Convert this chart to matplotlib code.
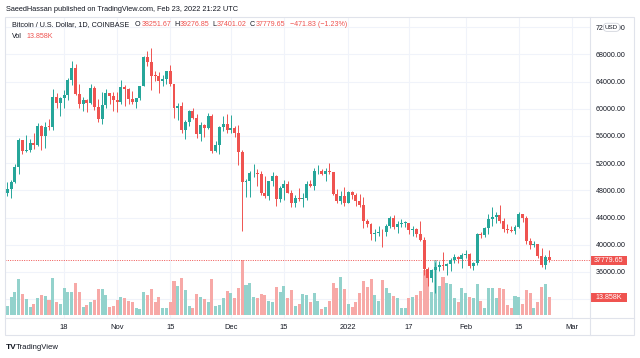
import matplotlib
matplotlib.use('Agg')
import matplotlib.pyplot as plt
import matplotlib.dates as mdates
import matplotlib.transforms as mtransforms
from matplotlib.patches import Rectangle
from matplotlib.lines import Line2D
import numpy as np
import pandas as pd

plt.rcParams['font.family'] = ['Liberation Sans', 'DejaVu Sans']

W, H = 640, 358

# daily candles, Coinbase BTC/USD
dates = pd.date_range('2021-10-03', '2022-02-23', freq='D')
opens = [47660, 48230, 49250, 51500, 55340, 53800, 53960, 54960, 54700, 57480,
         56000, 57370, 57350, 61670, 60870, 61530, 62040, 64280, 66000, 62200,
         60690, 61300, 60860, 63080, 60330, 58470, 60600, 62270, 61890, 61320,
         61000, 63230, 62940, 61450, 61010, 61530, 63310, 67550, 66950, 64880,
         64800, 64160, 64390, 65500, 63600, 60100, 60360, 56900, 58100, 59700,
         58670, 56300, 57560, 57170, 58960, 53730, 54710, 57270, 57800, 56950,
         57180, 56500, 53600, 49200, 49400, 50500, 50580, 50470, 47550, 47150,
         49350, 50100, 46700, 48340, 48870, 47630, 46180, 46850, 46690, 46900,
         48900, 48600, 50800, 50820, 50400, 50780, 50700, 47540, 46460, 47120,
         46210, 47740, 47300, 46440, 45830, 43430, 43080, 41560, 41730, 41870,
         41830, 42740, 43920, 42590, 43100, 43170, 43210, 42200, 42370, 41660,
         40680, 36460, 35070, 36280, 36680, 36960, 36820, 37200, 37710, 38170,
         37920, 38470, 38700, 36900, 37330, 41570, 41380, 42400, 43840, 44040,
         44370, 43530, 42380, 42230, 42070, 42550, 44560, 43880, 40540, 40000,
         40120, 38390, 37030, 38251.67]
highs = [49300, 49500, 51900, 55750, 55400, 56100, 55500, 56500, 57840, 57670,
         58000, 58550, 62900, 62350, 61700, 62700, 64480, 67000, 66600, 63700,
         61750, 61480, 63710, 63300, 61500, 62500, 62950, 62350, 62450, 62420,
         64270, 63500, 63100, 62600, 61580, 63320, 67790, 68530, 69000, 65600,
         65460, 64920, 65550, 66400, 63650, 60800, 60980, 58370, 59850, 60050,
         59300, 58000, 57800, 59400, 59170, 55300, 57450, 58870, 59200, 59100,
         57400, 57600, 53900, 49700, 50900, 51900, 51200, 50800, 50100, 49450,
         50700, 50200, 48700, 49500, 49400, 48000, 47300, 48300, 47550, 49330,
         49600, 51350, 51800, 51200, 51250, 52050, 50750, 48150, 47900, 48550,
         47900, 47950, 47550, 47500, 47050, 43750, 43150, 42300, 42800, 42250,
         43100, 44300, 44450, 43450, 43800, 43500, 43250, 42700, 42500, 43500,
         41100, 36800, 36450, 37500, 37550, 38900, 37250, 38000, 38700, 38350,
         38750, 39250, 38850, 37400, 41700, 41950, 42650, 44500, 45500, 44800,
         45850, 43950, 43000, 42750, 42850, 44750, 44600, 44200, 40950, 40500,
         40150, 39500, 38450, 39276.85]
lows = [47130, 46900, 49050, 50400, 53380, 53640, 53680, 54100, 54470, 53880,
        54300, 56850, 56860, 60140, 58950, 60100, 61340, 63500, 62100, 60050,
        59700, 59550, 60650, 59800, 58100, 57820, 60180, 60700, 59700, 59600,
        60650, 60400, 60700, 60730, 60100, 61350, 63300, 66330, 62800, 64100,
        62300, 63300, 63600, 63400, 58600, 58370, 56500, 55580, 57400, 58500,
        55650, 55300, 55850, 57000, 53550, 53650, 53320, 56700, 56450, 56450,
        55850, 51700, 42000, 47100, 47000, 50000, 48600, 47300, 46850, 46600,
        48650, 45700, 46300, 46550, 47550, 45500, 45550, 46450, 45600, 46650,
        48450, 48050, 50450, 50200, 49450, 50450, 47350, 46100, 45950, 45700,
        46200, 46750, 45700, 45500, 42500, 42650, 40700, 40550, 41250, 39650,
        41300, 42450, 42300, 41750, 42600, 42600, 41550, 41250, 41150, 40550,
        35500, 34000, 34600, 32950, 36100, 36300, 35500, 36200, 37300, 37350,
        36650, 38000, 36600, 36250, 37050, 40950, 41100, 41650, 42700, 43150,
        43200, 41950, 41750, 41850, 41550, 42450, 43350, 40100, 39450, 39650,
        38000, 36800, 36400, 37401.02]
closes = [48230, 49250, 51500, 55340, 53800, 53960, 54960, 54700, 57480, 56000,
          57370, 57350, 61670, 60870, 61530, 62040, 64280, 66000, 62200, 60690,
          61300, 60860, 63080, 60330, 58470, 60600, 62270, 61890, 61320, 61000,
          63230, 62940, 61450, 61010, 61530, 63310, 67550, 66950, 64880, 64800,
          64160, 64390, 65500, 63600, 60100, 60360, 56900, 58100, 59700, 58670,
          56300, 57560, 57170, 58960, 53730, 54710, 57270, 57800, 56950, 57180,
          56500, 53600, 49200, 49400, 50500, 50580, 50470, 47550, 47150, 49350,
          50100, 46700, 48340, 48870, 47630, 46180, 46850, 46690, 46900, 48900,
          48600, 50800, 50820, 50400, 50780, 50700, 47540, 46460, 47120, 46210,
          47740, 47300, 46440, 45830, 43430, 43080, 41560, 41730, 41870, 41830,
          42740, 43920, 42590, 43100, 43170, 43210, 42200, 42370, 41660, 40680,
          36460, 35070, 36280, 36680, 36960, 36820, 37200, 37710, 38170, 37920,
          38470, 38700, 36900, 37330, 41570, 41380, 42400, 43840, 44040, 44370,
          43530, 42380, 42230, 42070, 42550, 44560, 43880, 40540, 40000, 40120,
          38390, 37030, 38251.67, 37779.65]
# volume in thousands of BTC
volumes = [7.1, 14.2, 18.2, 28.4, 16.6, 12.6, 6.3, 8.7, 13.4, 15.8,
           15.0, 11.9, 29.2, 10.3, 8.7, 21.3, 18.2, 18.2, 25.3, 18.2,
           6.3, 7.9, 10.3, 11.9, 20.5, 20.5, 15.8, 6.3, 7.1,
           11.9, 14.2, 13.4, 11.1, 10.3, 5.5, 4.7, 18.2, 15.8, 20.5,
           10.3, 14.2, 5.5, 5.5, 10.3, 26.9, 22.9, 29.2, 19.8, 7.1,
           5.5, 16.6, 14.2, 12.6, 10.3, 28.4, 7.1, 7.9, 13.4, 19.0,
           17.4, 13.4, 21.3, 43.5, 23.7, 25.3, 14.2, 13.4, 16.6, 15.8,
           11.1, 10.3, 22.1, 18.2, 22.9, 13.4, 19.8, 7.1, 8.7, 16.6,
           15.8, 10.3, 17.4, 11.1, 4.7, 6.3, 11.1, 25.3, 21.3, 30.0, 20.5,
           8.7, 6.3, 10.3, 17.4, 26.9, 22.1, 28.4, 15.8, 11.1, 27.7,
           21.3, 17.4, 15.0, 13.4, 5.5, 5.5, 13.4, 14.2, 15.8, 19.0,
           35.6, 29.2, 18.2, 43.5, 22.9, 30.0, 25.3, 24.5, 13.4, 10.3, 21.3,
           17.4, 14.2, 13.4, 24.5, 11.1, 5.5, 21.3, 21.3, 13.4, 21.3,
           20.5, 7.9, 5.5, 15.0, 14.2, 8.7, 19.8, 17.4, 5.5, 10.3,
           22.1, 24.5, 13.858]
day_change = -471.83
day_change_pct = -1.23

price_ticks = [36000, 40000, 44000, 48000, 52000, 56000, 60000, 64000, 68000, 72000]
grid_prices = [32000] + price_ticks
time_ticks = ['2021-10-18', '2021-11-01', '2021-11-15', '2021-12-01', '2021-12-15',
              '2022-01-01', '2022-01-17', '2022-02-01', '2022-02-15', '2022-03-01']
time_labels = ['18', 'Nov', '15', 'Dec', '15', '2022', '17', 'Feb', '15', 'Mar']

UP = '#26a69a'
DOWN = '#ef5350'
UP_VOL = '#93d2cc'
DOWN_VOL = '#f7a9a7'
GRID = '#f0f3fa'
BORDER = '#e0e3eb'
TXT = '#131722'
FS = 5.1

o = np.array(opens)
h = np.array(highs)
l = np.array(lows)
c = np.array(closes)
xs = mdates.date2num(dates)
up = c >= o

fig = plt.figure(figsize=(W / 100, H / 100), dpi=100)
fig.patch.set_facecolor('white')


def box(x0, y0, x1, y1):
    # pixel box (top-left origin) -> figure fraction rect
    return [x0 / W, 1 - y1 / H, (x1 - x0) / W, (y1 - y0) / H]


def ftext(x, y, s, **kw):
    kw.setdefault('va', 'center')
    kw.setdefault('color', TXT)
    return fig.text(x / W, 1 - y / H, s, **kw)


axv = fig.add_axes(box(5, 17, 590, 318))
ax = fig.add_axes(box(5, 17, 590, 318), sharex=axv)
ax.patch.set_visible(False)
for a in (ax, axv):
    for sp in a.spines.values():
        sp.set_visible(False)

# volume pane (behind)
axv.bar(xs, volumes, width=0.8, color=np.where(up, UP_VOL, DOWN_VOL), lw=0, zorder=2)
axv.set_ylim(-2.4, 235.4)
axv.set_yticks([])
axv.grid(axis='x', color=GRID, lw=0.8, zorder=0)
trans = mtransforms.blended_transform_factory(axv.transAxes, ax.transData)
for p in grid_prices:
    axv.plot([0, 1], [p, p], transform=trans, color=GRID, lw=0.8, zorder=0)

# candles
cols = np.where(up, UP, DOWN)
ax.vlines(xs, l, h, colors=cols, lw=0.7, zorder=3)
ax.bar(xs, np.maximum(np.abs(c - o), 120), bottom=np.minimum(o, c), width=0.78,
       color=cols, lw=0, zorder=4)
ax.axhline(c[-1], color=DOWN, lw=0.7, ls=(0, (1, 1.4)), zorder=2)

ax.set_xlim(xs[0] - 0.61, xs[0] + 153.8)
ax.set_ylim(29235, 73500)
ax.set_xticks(mdates.date2num(pd.to_datetime(time_ticks)))
ax.set_xticklabels(time_labels)
ax.set_yticks(price_ticks)
ax.set_yticklabels([f'{p:.2f}' for p in price_ticks])
ax.yaxis.tick_right()
ax.tick_params(axis='y', length=0, pad=4.2, labelsize=FS, labelcolor=TXT)
ax.tick_params(axis='x', length=0, pad=4.5, labelsize=5.4, labelcolor=TXT)
axv.tick_params(axis='x', length=0, labelbottom=False)

# frame
fig.add_artist(Rectangle((5 / W, 1 - 335 / H), 629 / W, 318 / H, transform=fig.transFigure,
                         fill=False, ec=BORDER, lw=0.8))
fig.add_artist(Line2D([590 / W, 590 / W], [1 - 17 / H, 1 - 335 / H], color=BORDER, lw=0.8))
fig.add_artist(Line2D([5 / W, 634 / W], [1 - 318 / H, 1 - 318 / H], color=BORDER, lw=0.8))

# price / volume tags
fig.add_artist(Rectangle((590 / W, 1 - 264.5 / H), 37 / W, 8.6 / H, transform=fig.transFigure,
                         color=DOWN, lw=0))
ftext(608.5, 260.2, f'{c[-1]:.2f}', ha='center', color='white', fontsize=FS)
fig.add_artist(Rectangle((590 / W, 1 - 302.3 / H), 37 / W, 9.4 / H, transform=fig.transFigure,
                         color=DOWN, lw=0))
ftext(608.5, 297.6, f'{volumes[-1]:.3f}K', ha='center', color='white', fontsize=FS)
ftext(611.5, 27.3, 'USD', ha='center', fontsize=4.5,
      bbox=dict(boxstyle='round,pad=0.25,rounding_size=0.6', fc='white', ec='#d1d4dc', lw=0.6))

# header and legend
ftext(6, 9.3, 'SaeedHassan published on TradingView.com, Feb 23, 2022 21:22 UTC', fontsize=5.3)
ftext(12, 25, 'Bitcoin / U.S. Dollar, 1D, COINBASE', fontsize=5.2)
pieces = [('O', TXT, 0.6), (f'{o[-1]:.2f}', DOWN, 3), ('H', TXT, 0.6), (f'{h[-1]:.2f}', DOWN, 3),
          ('L', TXT, 0.6), (f'{l[-1]:.2f}', DOWN, 3), ('C', TXT, 0.6), (f'{c[-1]:.2f}', DOWN, 5),
          (f'\u2212{abs(day_change):.2f} (\u2212{abs(day_change_pct):.2f}%)', DOWN, 0)]
renderer = fig.canvas.get_renderer()
x = 135
for s, col, gap in pieces:
    t = ftext(x, 25, s, fontsize=FS, color=col)
    x += t.get_window_extent(renderer).width + gap
ftext(12, 36.6, 'Vol', fontsize=FS)
ftext(26.5, 36.6, f'{volumes[-1]:.3f}K', fontsize=FS, color=DOWN)

# footer logo
ftext(5.5, 347.5, 'TV', fontsize=6, fontweight='bold')
ftext(16, 347.5, 'TradingView', fontsize=5.6)

fig.savefig('out.png', dpi=100)
